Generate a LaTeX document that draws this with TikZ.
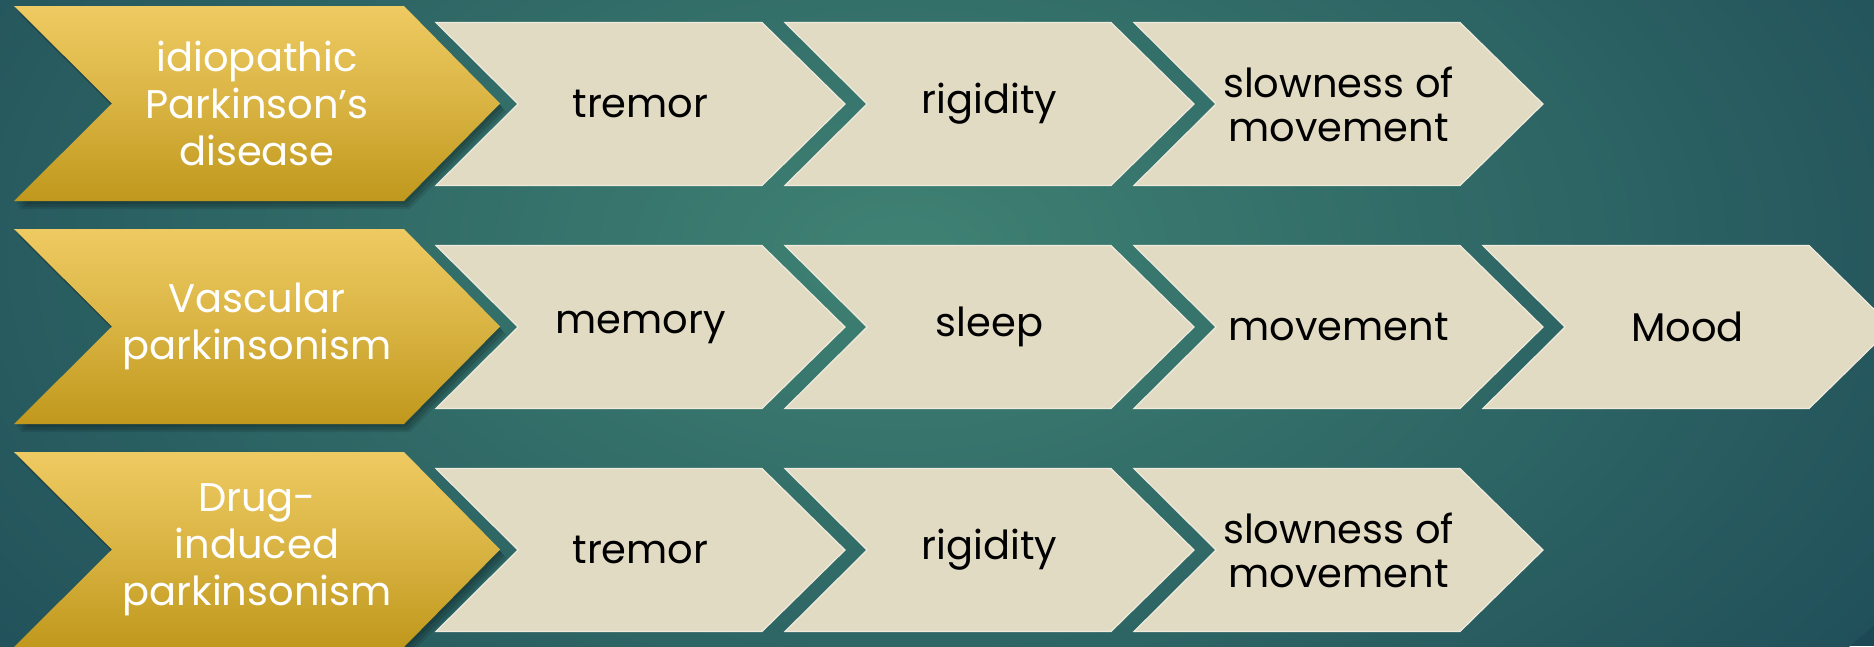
\documentclass[tikz,border=0pt]{standalone}
\usepackage{fontspec}
\setmainfont{Poppins}
\definecolor{bgin}{HTML}{3F8273}
\definecolor{bgout}{HTML}{1C4856}
\definecolor{goldtop}{HTML}{EECA62}
\definecolor{goldbot}{HTML}{C0981C}
\definecolor{beigefill}{HTML}{E2DBC4}
\definecolor{beigeedge}{HTML}{EFEBDD}
\pgfdeclareradialshading{bgshade}{\pgfpoint{0bp}{0bp}}{color(0bp)=(bgin); color(29bp)=(bgout); color(50bp)=(bgout)}
\newcommand{\goldpath}[1]{(14,#1-97.5) -- (404,#1-97.5) -- (500,#1) -- (404,#1+97.5) -- (14,#1+97.5) -- (112,#1) -- cycle}
\newcommand{\beigepath}[2]{(#1,#2-81.5) -- (#1+326,#2-81.5) -- (#1+409,#2) -- (#1+326,#2+81.5) -- (#1,#2+81.5) -- (#1+82,#2) -- cycle}
\newcommand{\goldchev}[3]{%
  \fill[black, opacity=0.12, shift={(2,3)}] \goldpath{#2};
  \fill[black, opacity=0.12, shift={(4,6)}] \goldpath{#2};
  \fill[black, opacity=0.10, shift={(6,8)}] \goldpath{#2};
  \shade[top color=goldtop, bottom color=goldbot, middle color=goldtop!55!goldbot] \goldpath{#2};
  \node[goldtext] (#1) at (257,#2) {#3};
}
\newcommand{\beigechev}[4]{%
  \filldraw[beigebox] \beigepath{#2}{#3};
  \node[beigetext] (#1) at (#2+204.5,#3) {#4};
}
\begin{document}
\begin{tikzpicture}[x=1pt,y=-1pt,
  beigebox/.style={fill=beigefill, draw=beigeedge, line width=1.2pt, line join=miter},
  beigetext/.style={text=black, align=center, font=\fontsize{40}{44}\selectfont, inner sep=0pt},
  goldtext/.style={text=white, align=center, font=\fontsize{40}{47}\selectfont, inner sep=0pt}]
\useasboundingbox (0,0) rectangle (1874,646);
\begin{scope}
\clip (0,0) rectangle (1874,646);
\fill[bgout] (0,0) rectangle (1874,646);
\shade[shading=bgshade] (900,250) ellipse (1160 and 690);
% row 1
\goldchev{g1}{103.5}{idiopathic\\Parkinson’s\\disease}
\beigechev{a1}{436}{104}{tremor}
\beigechev{a2}{785}{104}{rigidity}
\beigechev{a3}{1134}{104}{slowness of\\movement}
% row 2
\goldchev{g2}{326.5}{Vascular\\parkinsonism}
\beigechev{b1}{436}{327}{memory}
\beigechev{b2}{785}{327}{sleep}
\beigechev{b3}{1134}{327}{movement}
\beigechev{b4}{1483}{327}{Mood}
% row 3
\goldchev{g3}{549.5}{Drug-\\induced\\parkinsonism}
\beigechev{c1}{436}{550}{tremor}
\beigechev{c2}{785}{550}{rigidity}
\beigechev{c3}{1134}{550}{slowness of\\movement}
\end{scope}
\end{tikzpicture}
\end{document}
